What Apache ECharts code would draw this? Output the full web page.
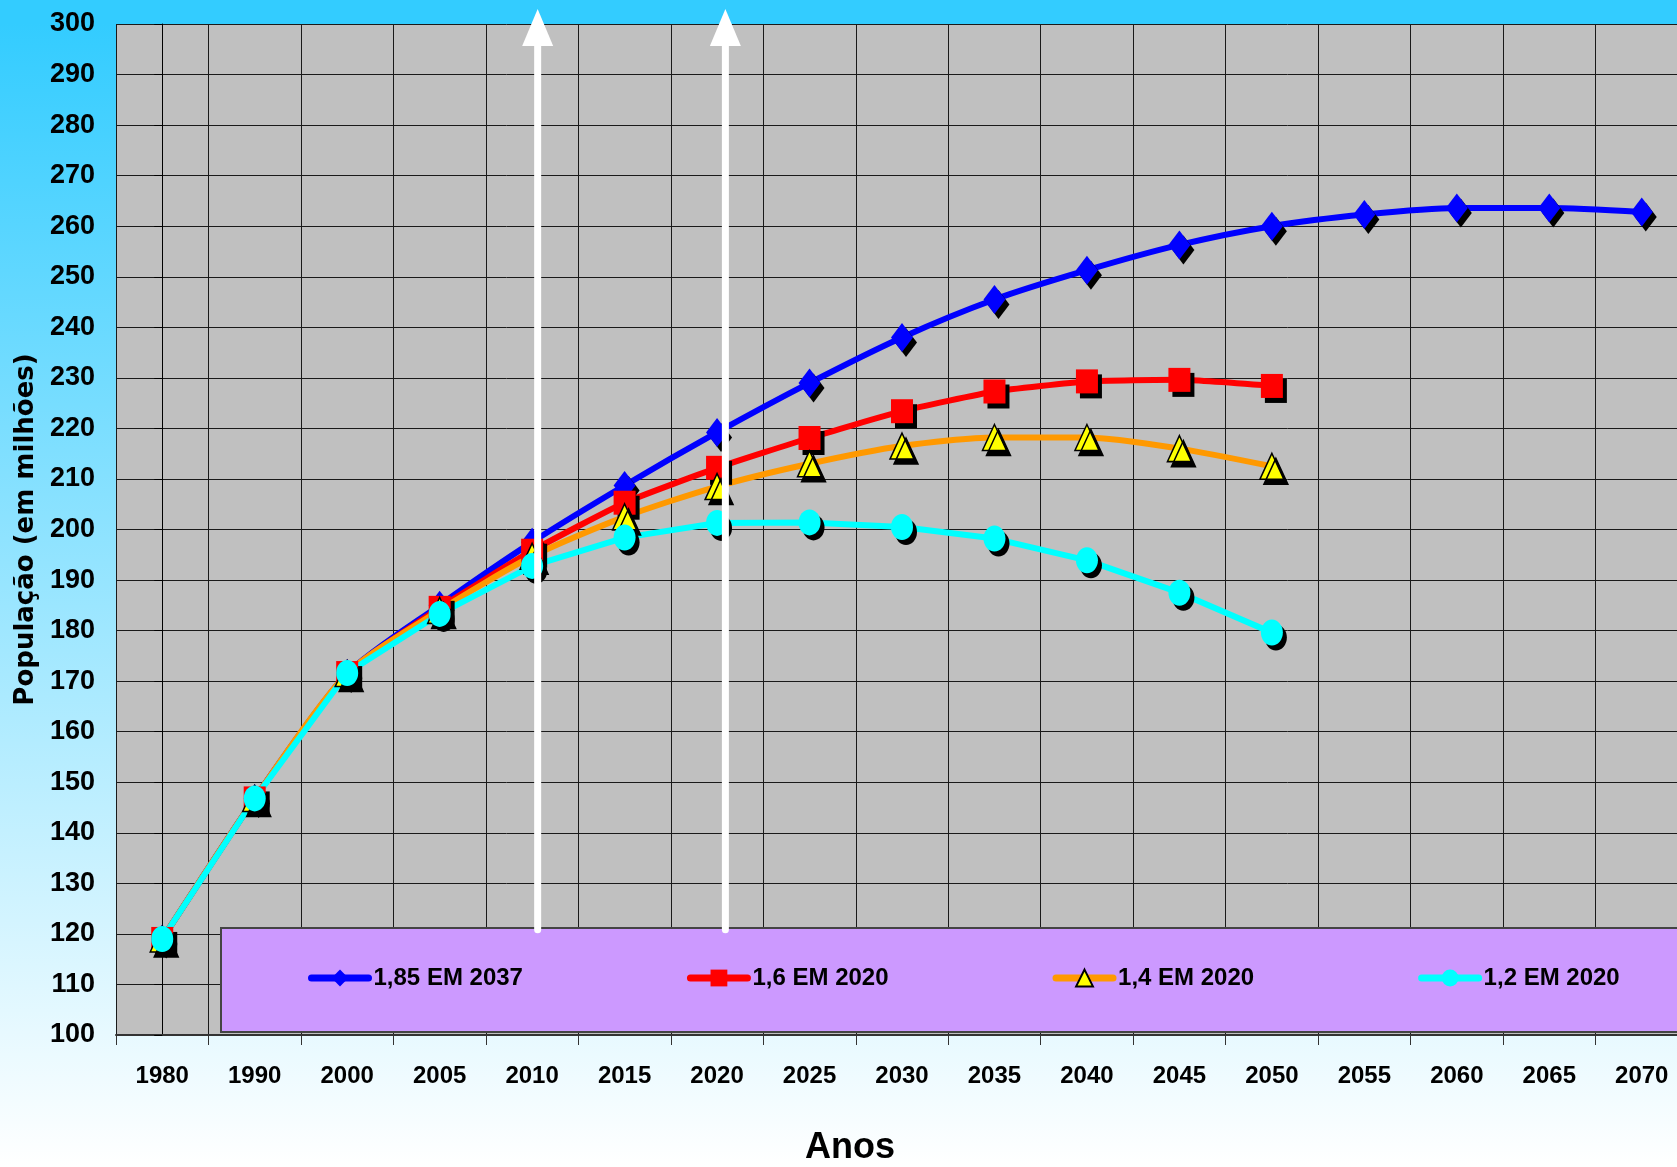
<!DOCTYPE html>
<html>
<head>
<meta charset="utf-8">
<script src="https://cdn.jsdelivr.net/npm/echarts@6/dist/echarts.min.js"></script>
<style>
html,body{margin:0;padding:0;}
#chart{width:1677px;height:1167px;}
</style>
</head>
<body>
<div id="chart"></div>
<script>
// Data
const years = ['1980','1990','2000','2005','2010','2015','2020','2025','2030','2035','2040','2045','2050','2055','2060','2065','2070'];
const seriesNames = ['1,85 EM 2037','1,6 EM 2020','1,4 EM 2020','1,2 EM 2020'];
const tfr185 = [119, 146.8, 171.5, 185.0, 197.5, 208.7, 219.2, 229.0, 238.0, 245.5, 251.3, 256.3, 260.0, 262.3, 263.6, 263.6, 262.8];
const tfr16  = [119, 146.8, 171.6, 184.5, 195.8, 205.3, 212.2, 218.1, 223.4, 227.3, 229.3, 229.6, 228.4];
const tfr14  = [119, 146.8, 171.5, 184.0, 194.7, 202.5, 208.5, 213.0, 216.5, 218.2, 218.2, 216.0, 212.5];
const tfr12  = [119, 146.8, 171.6, 183.3, 192.8, 198.4, 201.3, 201.4, 200.5, 198.2, 193.9, 187.5, 179.6];
// white arrows (category index position, bottom value, top value)
const arrowX = [4.06, 6.09];
const arrowRange = [120.8, 299.3];
const yMin = 100, yMax = 300, yStep = 10;

const font = '"Liberation Sans", Arial, sans-serif';
const shadow = {shadowColor:'#000', shadowOffsetX:4, shadowOffsetY:5, shadowBlur:0};

const chart = echarts.init(document.getElementById('chart'));

function arrowSeries(x, i) {
  return {
    name: 'arrow' + i,
    type: 'line',
    xAxisIndex: 1,
    yAxisIndex: 0,
    clip: false,
    z: 5,
    silent: true,
    lineStyle: {color:'#FFFFFF', width:7, cap:'round'},
    itemStyle: {color:'#FFFFFF'},
    data: [
      {value:[x, arrowRange[0]], symbol:'none'},
      {value:[x, arrowRange[1]], symbol:'triangle', symbolSize:[31, 37]}
    ]
  };
}

chart.setOption({
  animation: false,
  backgroundColor: {type:'linear', x:0, y:0, x2:0, y2:1,
    colorStops:[{offset:0,color:'#33CCFF'},{offset:0.02,color:'#33CCFF'},{offset:1,color:'#FFFFFF'}]},
  grid: {left:116, top:24, width:1572, bottom:132, outerBoundsMode:'none', containLabel:false,
    show:true, backgroundColor:'#C0C0C0', borderWidth:0},
  title: {text:'Anos', left:800, top:1125,
    textStyle:{fontFamily:font, fontWeight:'bold', fontSize:36, color:'#000'}},
  legend: {
    data: seriesNames,
    left: 221, top: 928,
    width: 2200,
    padding: [38, 250, 42, 87],
    backgroundColor: '#CC99FF',
    borderColor: '#444444',
    borderWidth: 2,
    itemGap: 164,
    itemWidth: 57,
    itemHeight: 21,
    lineStyle: {width:7, cap:'round'},
    itemStyle: {shadowColor:'rgba(0,0,0,0)', shadowBlur:0, shadowOffsetX:0, shadowOffsetY:0},
    textStyle: {fontFamily:font, fontWeight:'bold', fontSize:24, color:'#000'}
  },
  xAxis: [{
    type: 'category',
    data: years,
    boundaryGap: true,
    axisLine: {lineStyle:{color:'#333', width:2}},
    axisTick: {show:true, length:10, lineStyle:{color:'#333'}},
    axisLabel: {margin:29, fontFamily:font, fontWeight:'bold', fontSize:24, color:'#000', interval:0},
    splitLine: {show:true, lineStyle:{color:'#1a1a1a', width:1}}
  },{
    type: 'value', min:-0.5, max:16.5, show:false
  }],
  yAxis: {
    type: 'value',
    min: yMin, max: yMax, interval: yStep,
    name: 'População (em milhões)',
    nameLocation: 'middle',
    nameGap: 63,
    nameTextStyle: {fontFamily:'"DejaVu Sans", sans-serif', fontWeight:'bold', fontSize:26, color:'#000'},
    axisLine: {show:true, lineStyle:{color:'#000', width:1}},
    axisTick: {show:true, length:8, lineStyle:{color:'#000'}},
    axisLabel: {margin:21, fontFamily:font, fontWeight:'bold', fontSize:27, color:'#000'},
    splitLine: {show:true, lineStyle:{color:'#1a1a1a', width:1}}
  },
  series: [
    {
      name: seriesNames[0], type:'line', data: tfr185, smooth:0.25,
      symbol:'diamond', symbolSize:[22,29],
      lineStyle:{color:'#0000FF', width:6},
      itemStyle:Object.assign({color:'#0000FF'}, shadow)
    },
    {
      name: seriesNames[1], type:'line', data: tfr16, smooth:0.15,
      symbol:'rect', symbolSize:[22,24],
      lineStyle:{color:'#FF0000', width:6},
      itemStyle:Object.assign({color:'#FF0000'}, shadow)
    },
    {
      name: seriesNames[2], type:'line', data: tfr14, smooth:0.25,
      symbol:'triangle', symbolSize:[24,26],
      lineStyle:{color:'#FF9900', width:6},
      itemStyle:Object.assign({color:'#FFFF00', borderColor:'#000', borderWidth:1.5}, shadow)
    },
    {
      name: seriesNames[3], type:'line', data: tfr12,
      symbol:'circle', symbolSize:[22,26],
      lineStyle:{color:'#00FFFF', width:6},
      itemStyle:Object.assign({color:'#00FFFF'}, shadow)
    },
    arrowSeries(arrowX[0], 0),
    arrowSeries(arrowX[1], 1)
  ]
});
</script>
</body>
</html>
